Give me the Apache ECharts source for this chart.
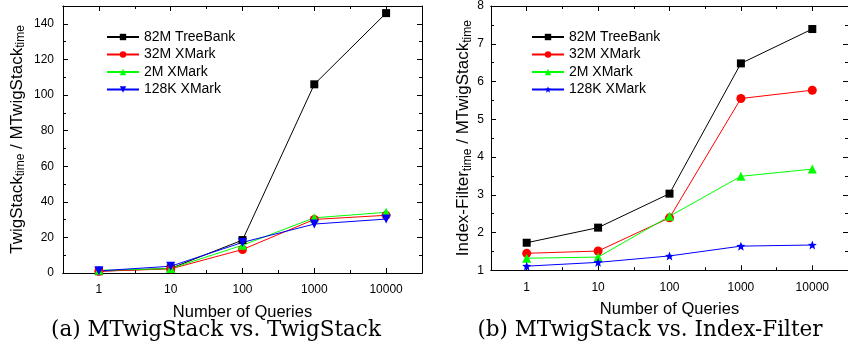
<!DOCTYPE html>
<html>
<head>
<meta charset="utf-8">
<script src="https://cdn.jsdelivr.net/npm/echarts@6/dist/echarts.min.js"></script>
<style>
html,body{margin:0;padding:0;background:#fff;}
#c{width:848px;height:344px;}
</style>
</head>
<body>
<div id="c"></div>
<script>
// ---- data ----
const categories = ['1', '10', '100', '1000', '10000'];
const seriesNames = ['82M TreeBank', '32M XMark', '2M XMark', '128K XMark'];
// (a) TwigStack / MTwigStack
const twig82M  = [1.0, 2.6, 18.5, 106, 146];
const twig32M  = [1.0, 2.3, 13.2, 30.1, 32.4];
const twig2M   = [1.5, 2.5, 15.6, 31.0, 34.1];
const twig128K = [1.2, 3.8, 17.2, 27.5, 30.3];
// (b) Index-Filter / MTwigStack
const idx82M  = [1.73, 2.13, 3.03, 6.48, 7.39];
const idx32M  = [1.45, 1.51, 2.39, 5.55, 5.77];
const idx2M   = [1.32, 1.35, 2.43, 3.49, 3.68];
const idx128K = [1.11, 1.21, 1.38, 1.64, 1.67];
const leftYTicks = {min: 0, max: 150, interval: 20};
const rightYTicks = {min: 1, max: 8, interval: 1};

// ---- styles ----
const colors = ['#000000', '#ff0000', '#00ff00', '#0000ff'];
const STAR = 'path://M12,1 L14.9,8.6 L23,9.2 L16.8,14.4 L18.8,22.5 L12,18 L5.2,22.5 L7.2,14.4 L1,9.2 L9.1,8.6 Z';
const leftSymbols = [['rect', 0, 8], ['circle', 0, 9], ['triangle', 0, 9], ['triangle', 180, 9]];
const rightSymbols = [['rect', 0, 8], ['circle', 0, 9], ['triangle', 0, 9], [STAR, 0, 9]];
const SANS = 'Liberation Sans, Arial, sans-serif';

const chart = echarts.init(document.getElementById('c'), null, {renderer: 'canvas'});

function xAxes(gridIndex) {
  const base = {
    type: 'category', data: categories, gridIndex: gridIndex, boundaryGap: true,
    axisLine: {show: true, lineStyle: {color: '#000', width: 1}},
    splitLine: {show: false}
  };
  return [
    Object.assign({}, base, {
      position: 'bottom',
      name: 'Number of Queries', nameLocation: 'middle', nameGap: 31,
      nameTextStyle: {fontFamily: SANS, fontSize: 16.5, color: '#000'},
      axisTick: {show: true, inside: true, alignWithLabel: true, length: 5, lineStyle: {color: '#000'}},
      axisLabel: {fontFamily: SANS, fontSize: 12, color: '#000', margin: 11, interval: 0}
    }),
    Object.assign({}, base, {
      position: 'bottom',
      axisTick: {show: true, inside: true, alignWithLabel: false, interval: 0, length: 3, lineStyle: {color: '#000'}},
      axisLabel: {show: false}
    }),
    Object.assign({}, base, {
      position: 'top',
      axisTick: {show: true, inside: true, alignWithLabel: true, length: 5, lineStyle: {color: '#000'}},
      axisLabel: {show: false}
    }),
    Object.assign({}, base, {
      position: 'top',
      axisTick: {show: true, inside: true, alignWithLabel: false, interval: 0, length: 3, lineStyle: {color: '#000'}},
      axisLabel: {show: false}
    })
  ];
}

function yAxes(gridIndex, ticks, nameRich, nameGap, labelMargin) {
  const base = {
    type: 'value', gridIndex: gridIndex, min: ticks.min, max: ticks.max, interval: ticks.interval,
    axisLine: {show: true, lineStyle: {color: '#000', width: 1}},
    axisTick: {show: true, inside: true, length: 5, lineStyle: {color: '#000'}},
    minorTick: {show: true, splitNumber: 2, length: 3, lineStyle: {color: '#000'}},
    splitLine: {show: false}, minorSplitLine: {show: false}
  };
  return [
    Object.assign({}, base, {
      position: 'left',
      name: nameRich, nameLocation: 'middle', nameGap: nameGap, nameRotate: 90,
      nameTextStyle: {
        color: '#000', fontFamily: SANS,
        rich: {
          a: {fontFamily: SANS, fontSize: 17, color: '#000', lineHeight: 20},
          s: {fontFamily: SANS, fontSize: 12, color: '#000', lineHeight: 12, verticalAlign: 'bottom'}
        }
      },
      axisLabel: {fontFamily: SANS, fontSize: 12, color: '#000', margin: labelMargin, showMaxLabel: ticks.max % ticks.interval === 0}
    }),
    Object.assign({}, base, {
      position: 'right',
      axisLabel: {show: false}
    })
  ];
}

function makeSeries(names, datas, symbols, xBase, yBase) {
  return datas.map(function (d, i) {
    return {
      name: names[i], type: 'line', data: d,
      xAxisIndex: xBase, yAxisIndex: yBase,
      symbol: symbols[i][0], symbolRotate: symbols[i][1], symbolSize: symbols[i][2],
      showAllSymbol: true,
      lineStyle: {color: colors[i], width: 1},
      itemStyle: {color: colors[i], borderWidth: 0},
      emphasis: {disabled: true},
      animation: false
    };
  });
}

function legend(left, names) {
  return {
    orient: 'vertical', left: left, top: 25,
    data: names,
    itemWidth: 32, itemHeight: 8, itemGap: 3.5,
    textStyle: {fontFamily: SANS, fontSize: 14, color: '#000', lineHeight: 14},
    selectedMode: false
  };
}

const rightNames = seriesNames.map(function (n) { return n + ' '; });

const option = {
  animation: false,
  backgroundColor: '#fff',
  grid: [
    {left: 63, top: 6, width: 359, height: 267, containLabel: false},
    {left: 491, top: 4.3, width: 358, height: 266, containLabel: false}
  ],
  xAxis: xAxes(0).concat(xAxes(1)),
  yAxis: yAxes(0, leftYTicks, '{a|TwigStack}{s|time}{a| / MTwigStack}{s|time}', 36, 9)
    .concat(yAxes(1, rightYTicks, '{a|Index-Filter}{s|time}{a| / MTwigStack}{s|time}', 13, 7)),
  legend: [legend(101, seriesNames), legend(526, rightNames)],
  series: makeSeries(seriesNames, [twig82M, twig32M, twig2M, twig128K], leftSymbols, 0, 0)
    .concat(makeSeries(rightNames, [idx82M, idx32M, idx2M, idx128K], rightSymbols, 4, 2)),
  graphic: [
    {type: 'text', x: 216, y: 330, style: {text: '(a) MTwigStack vs. TwigStack', font: '21.5px "DejaVu Serif", serif', fill: '#000', align: 'center', verticalAlign: 'middle'}},
    {type: 'text', x: 650, y: 330, style: {text: '(b) MTwigStack vs. Index-Filter', font: '21.5px "DejaVu Serif", serif', fill: '#000', align: 'center', verticalAlign: 'middle'}}
  ]
};
chart.setOption(option);
</script>
</body>
</html>
